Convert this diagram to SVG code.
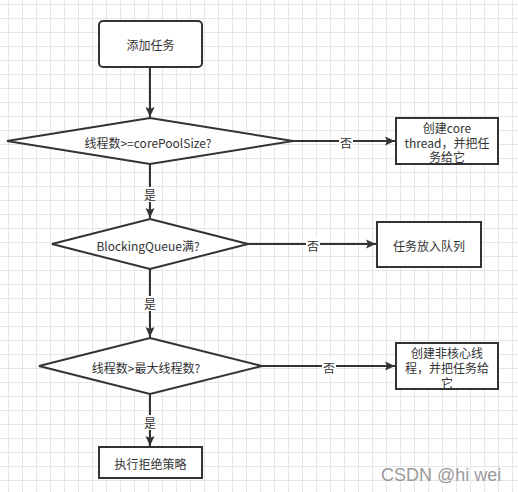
<svg xmlns="http://www.w3.org/2000/svg" width="518" height="492" viewBox="0 0 518 492">
<defs>
<pattern id="grid" x="8" y="4" width="14" height="14" patternUnits="userSpaceOnUse">
<path d="M0.5 0V14M0 0.5H14" fill="none" stroke="#e6e6e6" stroke-width="1"/>
</pattern>
<marker id="arr" markerWidth="10" markerHeight="10" viewBox="0 0 10 10" refX="10" refY="5" orient="auto" markerUnits="userSpaceOnUse">
<path d="M0 0.5L10 5L0 9.5L2 5Z" fill="#333"/>
</marker>
</defs>
<style>
.shape{fill:#fff;stroke:#333;stroke-width:2}
.t{font-family:"Noto Sans CJK SC","Liberation Sans",sans-serif;font-size:12px;fill:#333;text-anchor:middle;dominant-baseline:central}
.line{fill:none;stroke:#333;stroke-width:2}
.lbl{fill:#fff}
</style>
<rect x="0" y="0" width="518" height="492" fill="#fff"/>
<rect x="0" y="0" width="518" height="492" fill="url(#grid)"/>

<g id="connectors">
<path class="line" d="M150 67V117" marker-end="url(#arr)"/>
<path class="line" d="M293 141H395" marker-end="url(#arr)"/>
<rect class="lbl" x="339" y="134" width="14" height="15"/>
<text class="t" x="346" y="142">否</text>
<path class="line" d="M150 164V218" marker-end="url(#arr)"/>
<rect class="lbl" x="143" y="187" width="14" height="15"/>
<text class="t" x="150" y="194">是</text>
<path class="line" d="M248 244H376" marker-end="url(#arr)"/>
<rect class="lbl" x="306" y="237" width="14" height="15"/>
<text class="t" x="313" y="245">否</text>
<path class="line" d="M150 269V337" marker-end="url(#arr)"/>
<rect class="lbl" x="143" y="296" width="14" height="15"/>
<text class="t" x="150" y="303">是</text>
<path class="line" d="M262 366H395" marker-end="url(#arr)"/>
<rect class="lbl" x="322" y="359" width="14" height="15"/>
<text class="t" x="329" y="367">否</text>
<path class="line" d="M150 394V446" marker-end="url(#arr)"/>
<rect class="lbl" x="143" y="415" width="14" height="15"/>
<text class="t" x="150" y="422">是</text>
</g>

<g id="start">
<rect class="shape" x="99" y="21" width="103" height="46" rx="4"/>
<text class="t" x="150.5" y="44">添加任务</text>
</g>
<g id="d1">
<path class="shape" d="M150 118L293 141L150 164L7 141Z"/>
<text class="t" x="148" y="142">线程数&gt;=corePoolSize?</text>
</g>
<g id="b1">
<rect class="shape" x="396" y="118" width="102" height="46"/>
<text class="t" x="447" y="127">创建core</text>
<text class="t" x="447" y="142">thread，并把任</text>
<text class="t" x="447" y="156">务给它</text>
</g>
<g id="d2">
<path class="shape" d="M150 219L248 244L150 269L52 244Z"/>
<text class="t" x="148" y="245">BlockingQueue满?</text>
</g>
<g id="b2">
<rect class="shape" x="377" y="222" width="104" height="45"/>
<text class="t" x="429" y="245">任务放入队列</text>
</g>
<g id="d3">
<path class="shape" d="M150 338L262 366L150 394L39 366Z"/>
<text class="t" x="146" y="367">线程数&gt;最大线程数?</text>
</g>
<g id="b3">
<rect class="shape" x="396" y="343" width="102" height="46"/>
<text class="t" x="447" y="352">创建非核心线</text>
<text class="t" x="447" y="367">程，并把任务给</text>
<text class="t" x="447" y="382">它</text>
</g>
<g id="end">
<rect class="shape" x="99" y="447" width="103" height="31"/>
<text class="t" x="150.5" y="463">执行拒绝策略</text>
</g>
<text x="381" y="481" font-family="Liberation Sans,Arial,sans-serif" font-size="18" fill="#9a9a9a">CSDN @hi wei</text>
</svg>
